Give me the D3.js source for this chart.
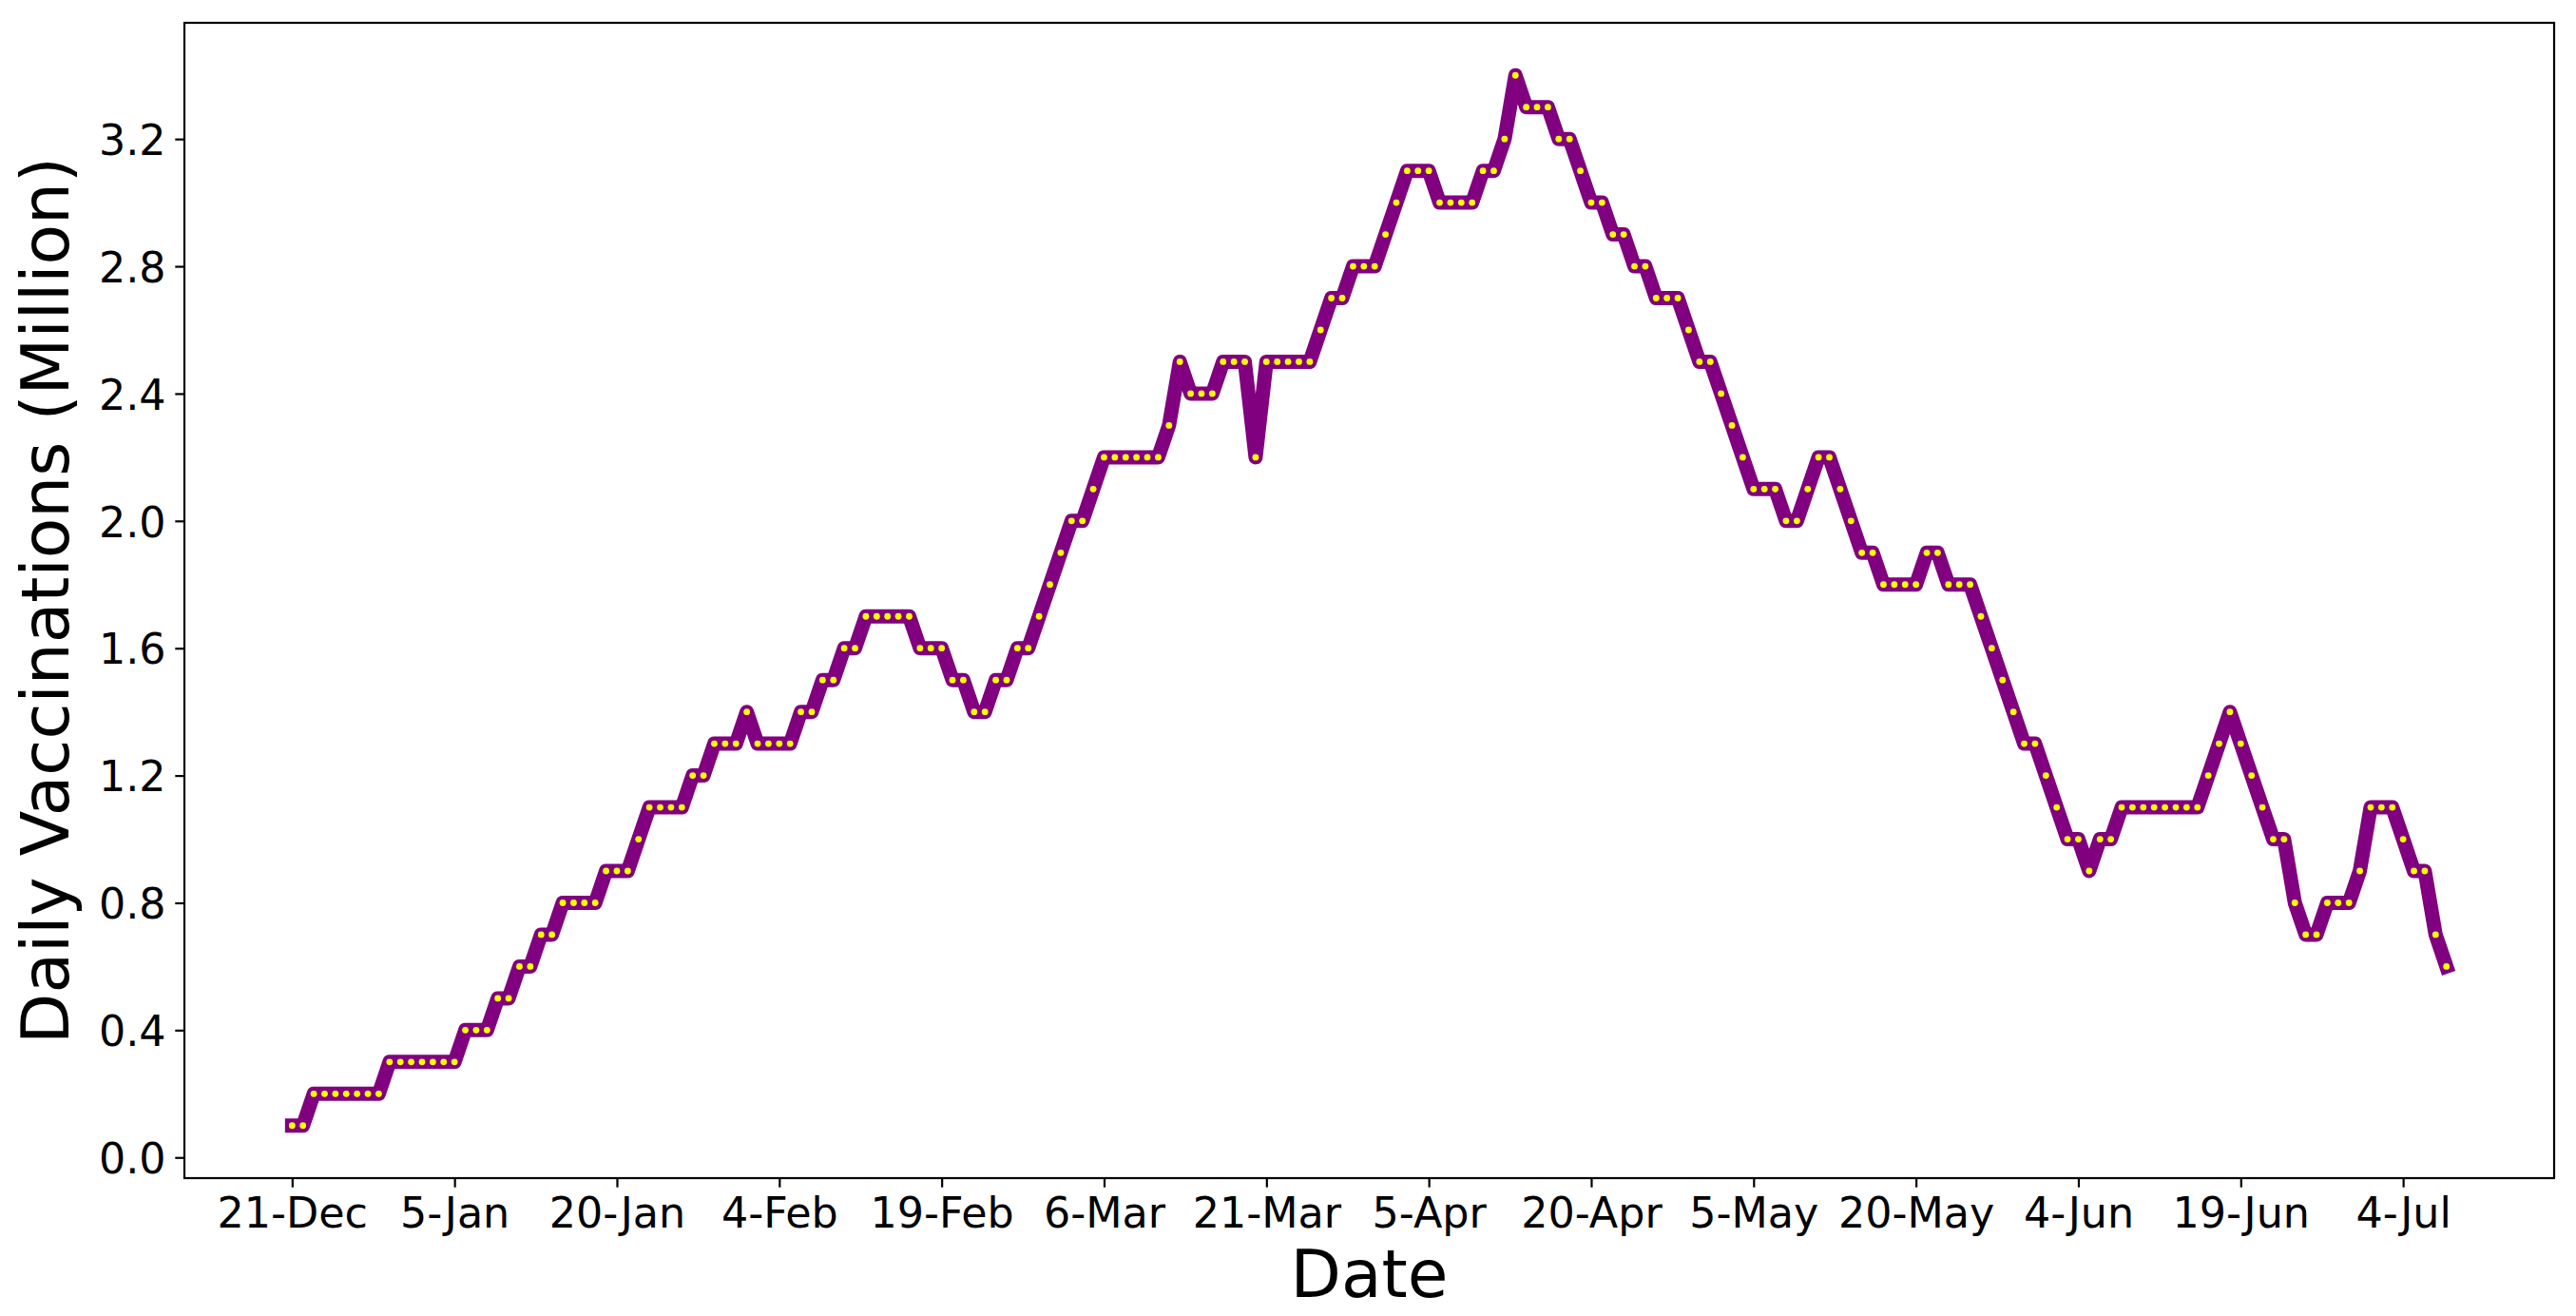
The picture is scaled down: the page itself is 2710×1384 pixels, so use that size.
<!DOCTYPE html>
<html>
<head>
<meta charset="utf-8">
<script src="https://cdn.jsdelivr.net/npm/d3@7"></script>
<style>
  html, body { margin: 0; padding: 0; background: #ffffff; }
  svg { display: block; font-family: "DejaVu Sans", sans-serif; }
</style>
</head>
<body>
<svg id="chart" width="2710" height="1384"></svg>
<script>
// ---- data ----
const startDate = "2020-12-21";
const dailyVaccinations = [
  0.1, 0.1, 0.2, 0.2, 0.2, 0.2, 0.2, 0.2, 0.2, 0.3,
  0.3, 0.3, 0.3, 0.3, 0.3, 0.3, 0.4, 0.4, 0.4, 0.5,
  0.5, 0.6, 0.6, 0.7, 0.7, 0.8, 0.8, 0.8, 0.8, 0.9,
  0.9, 0.9, 1.0, 1.1, 1.1, 1.1, 1.1, 1.2, 1.2, 1.3,
  1.3, 1.3, 1.4, 1.3, 1.3, 1.3, 1.3, 1.4, 1.4, 1.5,
  1.5, 1.6, 1.6, 1.7, 1.7, 1.7, 1.7, 1.7, 1.6, 1.6,
  1.6, 1.5, 1.5, 1.4, 1.4, 1.5, 1.5, 1.6, 1.6, 1.7,
  1.8, 1.9, 2.0, 2.0, 2.1, 2.2, 2.2, 2.2, 2.2, 2.2,
  2.2, 2.3, 2.5, 2.4, 2.4, 2.4, 2.5, 2.5, 2.5, 2.2,
  2.5, 2.5, 2.5, 2.5, 2.5, 2.6, 2.7, 2.7, 2.8, 2.8,
  2.8, 2.9, 3.0, 3.1, 3.1, 3.1, 3.0, 3.0, 3.0, 3.0,
  3.1, 3.1, 3.2, 3.4, 3.3, 3.3, 3.3, 3.2, 3.2, 3.1,
  3.0, 3.0, 2.9, 2.9, 2.8, 2.8, 2.7, 2.7, 2.7, 2.6,
  2.5, 2.5, 2.4, 2.3, 2.2, 2.1, 2.1, 2.1, 2.0, 2.0,
  2.1, 2.2, 2.2, 2.1, 2.0, 1.9, 1.9, 1.8, 1.8, 1.8,
  1.8, 1.9, 1.9, 1.8, 1.8, 1.8, 1.7, 1.6, 1.5, 1.4,
  1.3, 1.3, 1.2, 1.1, 1.0, 1.0, 0.9, 1.0, 1.0, 1.1,
  1.1, 1.1, 1.1, 1.1, 1.1, 1.1, 1.1, 1.2, 1.3, 1.4,
  1.3, 1.2, 1.1, 1.0, 1.0, 0.8, 0.7, 0.7, 0.8, 0.8,
  0.8, 0.9, 1.1, 1.1, 1.1, 1.0, 0.9, 0.9, 0.7, 0.6
];
const xTickDates = ["2020-12-21", "2021-01-05", "2021-01-20", "2021-02-04", "2021-02-19",
  "2021-03-06", "2021-03-21", "2021-04-05", "2021-04-20", "2021-05-05", "2021-05-20",
  "2021-06-04", "2021-06-19", "2021-07-04"];
const xTickLabels = ["21-Dec", "5-Jan", "20-Jan", "4-Feb", "19-Feb", "6-Mar", "21-Mar",
  "5-Apr", "20-Apr", "5-May", "20-May", "4-Jun", "19-Jun", "4-Jul"];
const yTickValues = [0.0, 0.4, 0.8, 1.2, 1.6, 2.0, 2.4, 2.8, 3.2];
const xLabel = "Date";
const yLabel = "Daily Vaccinations (Million)";

// ---- layout ----
const plot = { left: 194, right: 2687, top: 24, bottom: 1239 };
const parse = d3.utcParse("%Y-%m-%d");
const start = parse(startDate);
const dates = dailyVaccinations.map((_, i) => d3.utcDay.offset(start, i));
const data = dates.map((d, i) => ({ date: d, value: dailyVaccinations[i] }));

const [d0, d1] = d3.extent(dates);
const span = d1 - d0;
const x = d3.scaleUtc()
  .domain([new Date(+d0 - 0.05 * span), new Date(+d1 + 0.05 * span)])
  .range([plot.left, plot.right]);
const [v0, v1] = d3.extent(dailyVaccinations);
const vr = v1 - v0;
const y = d3.scaleLinear()
  .domain([v0 - 0.05 * vr, v1 + 0.05 * vr])
  .range([plot.bottom, plot.top]);

const svg = d3.select("#chart");
svg.append("rect").attr("width", 2710).attr("height", 1384).attr("fill", "#ffffff");

const tickFont = 44.4;
const tickLen = 9.7, tickPad = 9.7, lw = 2.2;

// line
const line = d3.line().x(d => x(d.date)).y(d => y(d.value));
svg.append("path")
  .datum(data)
  .attr("d", line)
  .attr("fill", "none")
  .attr("stroke", "#800080")
  .attr("stroke-width", 15)
  .attr("stroke-linejoin", "round")
  .attr("stroke-linecap", "square");

svg.append("g").selectAll("circle")
  .data(data)
  .join("circle")
  .attr("cx", d => x(d.date))
  .attr("cy", d => y(d.value))
  .attr("r", 3.4)
  .attr("fill", "#ffff00");

// axes
const xAxis = d3.axisBottom(x)
  .tickValues(xTickDates.map(parse))
  .tickFormat((d, i) => xTickLabels[i])
  .tickSize(tickLen).tickPadding(tickPad);
const gx = svg.append("g").attr("transform", `translate(0,${plot.bottom})`).call(xAxis);
gx.select(".domain").remove();
gx.selectAll("line").attr("stroke", "#000").attr("stroke-width", lw);
gx.selectAll("text").attr("font-size", tickFont).attr("font-family", "DejaVu Sans").attr("fill", "#000").attr("dy", "0.74em");

const yAxis = d3.axisLeft(y)
  .tickValues(yTickValues)
  .tickFormat(d3.format(".1f"))
  .tickSize(tickLen).tickPadding(tickPad);
const gy = svg.append("g").attr("transform", `translate(${plot.left},0)`).call(yAxis);
gy.select(".domain").remove();
gy.selectAll("line").attr("stroke", "#000").attr("stroke-width", lw);
gy.selectAll("text").attr("font-size", tickFont).attr("font-family", "DejaVu Sans").attr("fill", "#000").attr("dy", "0.365em");

// frame
svg.append("rect")
  .attr("x", plot.left).attr("y", plot.top)
  .attr("width", plot.right - plot.left).attr("height", plot.bottom - plot.top)
  .attr("fill", "none").attr("stroke", "#000").attr("stroke-width", lw);

// labels
svg.append("text")
  .attr("x", (plot.left + plot.right) / 2).attr("y", 1364)
  .attr("text-anchor", "middle")
  .attr("font-size", 69.4).attr("fill", "#000")
  .text(xLabel);

svg.append("text")
  .attr("transform", `translate(72,${(plot.top + plot.bottom) / 2}) rotate(-90)`)
  .attr("text-anchor", "middle")
  .attr("font-size", 69.4).attr("fill", "#000")
  .text(yLabel);
</script>
</body>
</html>
